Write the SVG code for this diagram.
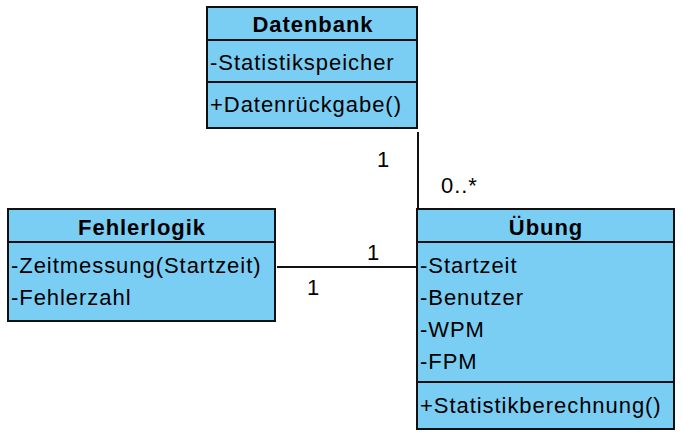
<svg xmlns="http://www.w3.org/2000/svg" width="683" height="436" viewBox="0 0 683 436">
<style>
.box{fill:#7acef4;stroke:#111;stroke-width:2}
.sep{stroke:#111;stroke-width:2}
.t{font-family:"Liberation Sans",Arial,sans-serif;font-size:22px;letter-spacing:0.95px;fill:#000}
.b{font-weight:bold;text-anchor:middle}
.con{stroke:#111;stroke-width:2;fill:none}
</style>
<rect width="683" height="436" fill="#fff"/>
<g id="connectors">
<line class="con" x1="418" y1="132" x2="418" y2="209"/>
<line class="con" x1="277" y1="267" x2="417" y2="267"/>
<text class="t" x="377" y="167">1</text>
<text class="t" x="441" y="193">0..*</text>
<text class="t" x="367" y="260">1</text>
<text class="t" x="307" y="295">1</text>
</g>
<g id="Datenbank">
<rect class="box" x="207" y="7" width="210" height="121"/>
<line class="sep" x1="207" y1="40" x2="417" y2="40"/>
<line class="sep" x1="207" y1="82" x2="417" y2="82"/>
<text class="t b" x="313" y="32">Datenbank</text>
<text class="t" x="210" y="70">-Statistikspeicher</text>
<text class="t" x="210" y="112">+Datenrückgabe()</text>
</g>
<g id="Fehlerlogik">
<rect class="box" x="8" y="209" width="267" height="112"/>
<line class="sep" x1="8" y1="242" x2="275" y2="242"/>
<text class="t b" x="142" y="235">Fehlerlogik</text>
<text class="t" x="11" y="273">-Zeitmessung(Startzeit)</text>
<text class="t" x="11" y="305">-Fehlerzahl</text>
</g>
<g id="Uebung">
<rect class="box" x="417" y="209" width="257" height="220"/>
<line class="sep" x1="417" y1="242" x2="674" y2="242"/>
<line class="sep" x1="417" y1="382" x2="674" y2="382"/>
<text class="t b" x="546" y="235">Übung</text>
<text class="t" x="420" y="273">-Startzeit</text>
<text class="t" x="420" y="305">-Benutzer</text>
<text class="t" x="420" y="337">-WPM</text>
<text class="t" x="420" y="369">-FPM</text>
<text class="t" x="420" y="413">+Statistikberechnung()</text>
</g>
</svg>
